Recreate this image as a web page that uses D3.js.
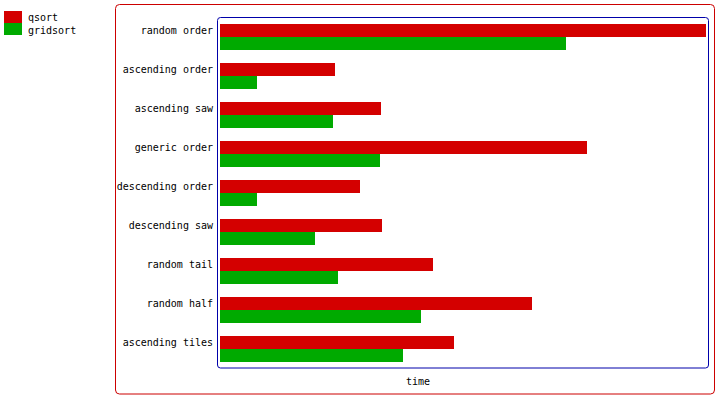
<!DOCTYPE html>
<html><head><meta charset="utf-8">
<script src="https://cdn.jsdelivr.net/npm/d3@7"></script>
<style>body{margin:0;background:#fff}svg{display:block}text{font-family:"DejaVu Sans Mono",monospace;font-size:10px;fill:#000}</style>
</head><body>
<script>
const categories = ["random order","ascending order","ascending saw","generic order","descending order","descending saw","random tail","random half","ascending tiles"];
const seriesNames = ["qsort","gridsort"];
const qsort    = [486,115,161,367,140,162,213,312,234];
const gridsort = [346, 37,113,160, 37, 95,118,201,183];
const colors = ["#d40000","#00aa00"];
const xLabel = "time";

const W=719,H=400;
const svg=d3.select("body").append("svg").attr("width",W).attr("height",H);

// outer frame
svg.append("rect").attr("x",115.5).attr("y",4.5).attr("width",599).attr("height",389.5)
  .attr("rx",4).attr("fill","none").attr("stroke","#cc0000").attr("stroke-width",1);
// plot frame
svg.append("rect").attr("x",217.5).attr("y",17.5).attr("width",491).attr("height",350.5)
  .attr("rx",3).attr("fill","none").attr("stroke","#0000aa").attr("stroke-width",1);

const x=d3.scaleLinear().domain([0,d3.max(qsort)]).range([220,706]);
const y=d3.scaleBand().domain(categories).range([24,375]).paddingInner(0).paddingOuter(0);
const barH=13;

const g=svg.append("g");
categories.forEach((c,i)=>{
  const y0=y(c);
  [qsort,gridsort].forEach((s,j)=>{
    g.append("rect").attr("x",x(0)).attr("y",y0+j*barH).attr("width",x(s[i])-x(0)).attr("height",barH)
      .attr("fill",colors[j]);
  });
  g.append("text").attr("x",213).attr("y",y0+barH/2).attr("dy","0.35em").attr("text-anchor","end").text(c);
});

svg.append("text").attr("x",418).attr("y",381).attr("dy","0.35em").attr("text-anchor","middle").text(xLabel);

// legend
seriesNames.forEach((n,i)=>{
  svg.append("rect").attr("x",4).attr("y",11+i*12).attr("width",18).attr("height",12).attr("fill",colors[i]);
  svg.append("text").attr("x",28).attr("y",17+i*13).attr("dy","0.35em").text(n);
});
</script>
</body></html>
